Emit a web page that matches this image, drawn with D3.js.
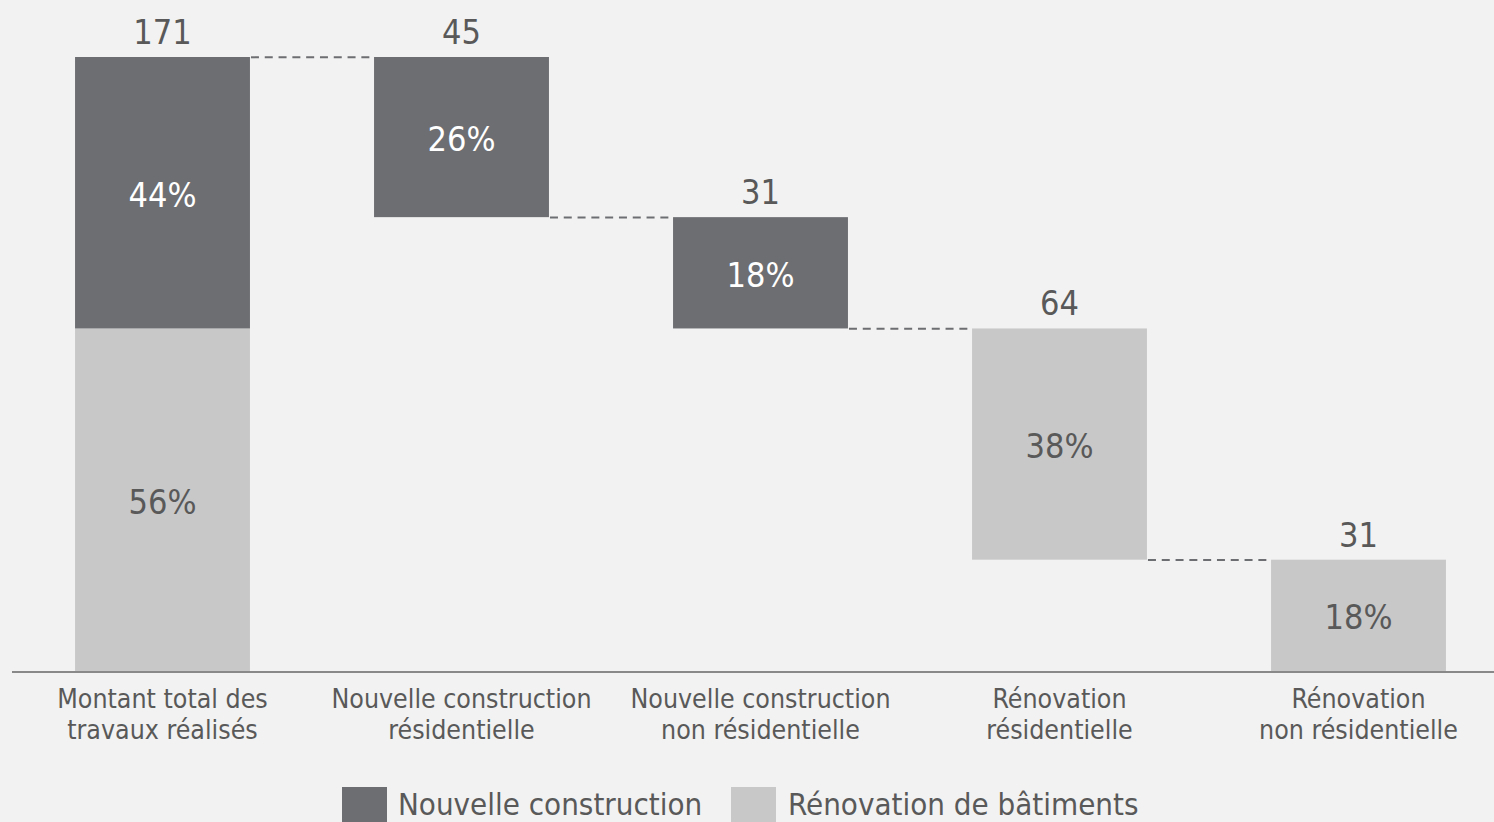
<!DOCTYPE html>
<html>
<head>
<meta charset="utf-8">
<script src="https://cdn.jsdelivr.net/npm/d3@7"></script>
<style>
  html, body { margin: 0; padding: 0; background: #f2f2f2; }
  svg { display: block; }
  text { font-family: "DejaVu Sans Condensed", "DejaVu Sans", sans-serif; }
</style>
</head>
<body>
<svg id="chart" width="1494" height="822"></svg>
<script>
// Waterfall: total works split into new construction and renovation
const categories = [
  ["Montant total des", "travaux réalisés"],
  ["Nouvelle construction", "résidentielle"],
  ["Nouvelle construction", "non résidentielle"],
  ["Rénovation", "résidentielle"],
  ["Rénovation", "non résidentielle"]
];
const stepValues = [44.6, 31.0, 64.4, 31.0];           // components
const stepGroups = ["new", "new", "reno", "reno"];      // series of each component
const seriesNames = { new: "Nouvelle construction", reno: "Rénovation de bâtiments" };
const seriesKeys = ["new", "reno"];

const colors = { new: "#6d6e71", reno: "#c8c8c8" };
const pctColors = { new: "#ffffff", reno: "#595959" };
const textColor = "#595959";

(function draw() {
  const W = 1494, H = 822;
  const svg = d3.select("#chart");
  svg.append("rect").attr("width", W).attr("height", H).attr("fill", "#f2f2f2");

  const total = d3.sum(stepValues);
  const fmtVal = d3.format(".0f");
  const fmtPct = v => Math.round(v / total * 100) + "%";

  const x = d3.scaleBand()
    .domain(d3.range(categories.length))
    .range([13, 1508])
    .paddingInner(0.415)
    .paddingOuter(0.2075);

  const y = d3.scaleLinear().domain([0, total]).range([671, 57]);

  // First column is the stacked total, then floating steps downwards
  const segments = [];
  let base = 0;
  seriesKeys.slice().reverse().forEach(k => {
    const v = d3.sum(stepValues.filter((_, i) => stepGroups[i] === k));
    segments.push({ col: 0, key: k, y0: base, y1: base + v, v });
    base += v;
  });
  let level = total;
  stepValues.forEach((v, i) => {
    segments.push({ col: i + 1, key: stepGroups[i], y0: level - v, y1: level, v });
    level -= v;
  });

  // Bars
  svg.append("g").selectAll("rect").data(segments).join("rect")
    .attr("x", d => x(d.col))
    .attr("width", x.bandwidth())
    .attr("y", d => y(d.y1))
    .attr("height", d => y(d.y0) - y(d.y1))
    .attr("fill", d => colors[d.key]);

  // Dashed connectors between columns
  const colTops = [total];
  segments.filter(s => s.col > 0).forEach(s => colTops.push(s.y1));
  const connectors = d3.range(categories.length - 1).map(i => ({
    x1: x(i) + x.bandwidth() + 1, x2: x(i + 1), v: colTops[i + 1]
  }));
  svg.append("g").selectAll("line").data(connectors).join("line")
    .attr("x1", d => d.x1).attr("x2", d => d.x2)
    .attr("y1", d => y(d.v) + 0.3).attr("y2", d => y(d.v) + 0.3)
    .attr("stroke", "#6d6e71").attr("stroke-width", 2)
    .attr("stroke-dasharray", "8,5.8");

  // Baseline
  svg.append("line")
    .attr("x1", 12).attr("x2", W)
    .attr("y1", y(0) + 1).attr("y2", y(0) + 1)
    .attr("stroke", "#898989").attr("stroke-width", 2);

  // Value labels above each column
  const colValues = [total].concat(stepValues);
  svg.append("g").selectAll("text").data(colValues).join("text")
    .attr("x", (d, i) => x(i) + x.bandwidth() / 2)
    .attr("y", (d, i) => y(colTops[i]) - 13)
    .attr("text-anchor", "middle")
    .attr("font-size", 34)
    .attr("fill", textColor)
    .text(d => fmtVal(d));

  // Percentage labels inside segments
  svg.append("g").selectAll("text").data(segments).join("text")
    .attr("x", d => x(d.col) + x.bandwidth() / 2)
    .attr("y", d => (y(d.y0) + y(d.y1)) / 2 + 14)
    .attr("text-anchor", "middle")
    .attr("font-size", 34)
    .attr("fill", d => pctColors[d.key])
    .text(d => fmtPct(d.v));

  // Category labels
  const catG = svg.append("g").selectAll("text").data(categories).join("text")
    .attr("text-anchor", "middle")
    .attr("font-size", 26.5)
    .attr("fill", textColor);
  catG.selectAll("tspan").data((d, i) => d.map(t => ({ t, i }))).join("tspan")
    .attr("x", d => x(d.i) + x.bandwidth() / 2)
    .attr("y", (d, j) => 708 + j * 31)
    .text(d => d.t);

  // Legend
  const legendItems = [
    { key: "new", sx: 342, tx: 398 },
    { key: "reno", sx: 731, tx: 788 }
  ];
  const lg = svg.append("g");
  lg.selectAll("rect").data(legendItems).join("rect")
    .attr("x", d => d.sx).attr("y", 787)
    .attr("width", 45).attr("height", 36)
    .attr("fill", d => colors[d.key]);
  lg.selectAll("text").data(legendItems).join("text")
    .attr("x", d => d.tx).attr("y", 814.5)
    .attr("font-size", 31)
    .attr("fill", textColor)
    .text(d => seriesNames[d.key]);
})();
</script>
</body>
</html>
